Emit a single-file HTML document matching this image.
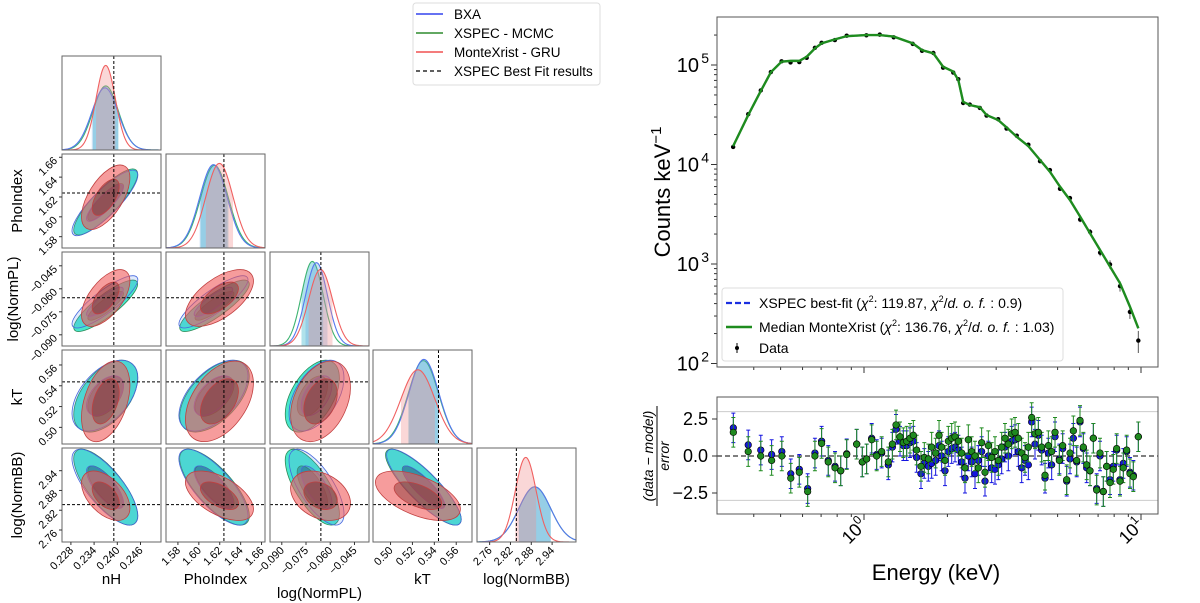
<!DOCTYPE html>
<html><head><meta charset="utf-8"><title>Corner plot and spectrum fit</title>
<style>
html,body{margin:0;padding:0;background:#fff;}
svg{display:block;font-family:"Liberation Sans","DejaVu Sans",sans-serif;}
</style></head>
<body>
<svg id="fig" width="1200" height="603" viewBox="0 0 1200 603" xmlns="http://www.w3.org/2000/svg">
  <g id="corner"></g>
  <g id="spec"></g>
  <g id="resid"></g>
  <g id="cornerLegend">
    <rect x="413" y="3" width="187" height="82" rx="3" fill="#fff" stroke="#ddd"/>
    <line x1="416" y1="14" x2="443" y2="14" stroke="#3344ee" stroke-width="1.5"/>
    <text x="454" y="19" font-size="13.5">BXA</text>
    <line x1="416" y1="33" x2="443" y2="33" stroke="#2e8b2e" stroke-width="1.5"/>
    <text x="454" y="38" font-size="13.5">XSPEC - MCMC</text>
    <line x1="416" y1="52" x2="443" y2="52" stroke="#f05050" stroke-width="1.5"/>
    <text x="454" y="57" font-size="13.5">MonteXrist - GRU</text>
    <line x1="416" y1="71" x2="443" y2="71" stroke="#000" stroke-width="1.3" stroke-dasharray="4,3"/>
    <text x="454" y="76" font-size="13.5">XSPEC Best Fit results</text>
  </g>
</svg>
<script>
// ---------- Corner plot data ----------
const params = ['nH','PhoIndex','log(NormPL)','kT','log(NormBB)'];
const rangeLo = [0.2257,1.5686,-0.0973,0.484,2.7236];
const rangeHi = [0.2513,1.6633,-0.0360,0.5744,3.0088];
const bestFit = [0.2391,1.624,-0.0658,0.5438,2.837];
const meanBXA = [0.2368,1.614,-0.0685,0.5305,2.890];
const sigBXA  = [0.0034,0.0132,0.0068,0.0136,0.046];
const meanMCMC = [0.2370,1.615,-0.0711,0.530,2.890];
const sigMCMC  = [0.0033,0.0133,0.0067,0.0138,0.046];
const meanGRU = [0.2370,1.6197,-0.066,0.525,2.864];
const sigGRU  = [0.0025,0.013,0.0074,0.0155,0.030];
const corrBXA  = [[1],[0.85,1],[0.85,0.85,1],[0.5,0.55,0.5,1],[-0.75,-0.75,-0.7,-0.85,1]];
const corrMCMC = [[1],[0.85,1],[0.85,0.85,1],[0.5,0.55,0.5,1],[-0.75,-0.75,-0.7,-0.85,1]];
const corrGRU  = [[1],[0.6,1],[0.6,0.6,1],[0.4,0.45,0.35,1],[-0.5,-0.55,-0.3,-0.55,1]];
const tickNH = [0.228,0.234,0.240,0.246];
const tickPho = [1.58,1.60,1.62,1.64,1.66];
const tickNormPL = [-0.090,-0.075,-0.060,-0.045];
const tickKT = [0.50,0.52,0.54,0.56];
const tickNormBB = [2.76,2.82,2.88,2.94];
const tickLabelNH = ['0.228','0.234','0.240','0.246'];
const tickLabelPho = ['1.58','1.60','1.62','1.64','1.66'];
const tickLabelNormPL = ['\u22120.090','\u22120.075','\u22120.060','\u22120.045'];
const tickLabelKT = ['0.50','0.52','0.54','0.56'];
const tickLabelNormBB = ['2.76','2.82','2.88','2.94'];

// ---------- Spectrum data ----------
const specEnergy = [0.337,0.382,0.424,0.461,0.504,0.543,0.584,0.621,0.665,0.703,0.785,0.866,1.02,1.14,1.28,1.50,1.62,1.78,1.93,2.10,2.19,2.28,2.41,2.62,2.77,3.05,3.27,3.56,3.92,4.32,4.69,5.10,5.54,6.03,6.55,7.12,7.73,8.40,9.12,9.78];
const modelCounts = [15300,31400,54800,84500,108000,110000,110000,121000,147000,165000,181000,195000,200000,200000,193000,165000,141000,131000,96000,86000,70800,42700,39600,37600,31400,28000,23600,19000,15300,11100,8470,5990,4400,2990,2030,1380,940,640,373,226];
const dataCounts = [15000,32000,55500,85000,109000,106000,107000,118000,149000,167000,178000,197000,199000,202000,190000,163000,139000,132000,94000,84000,72000,41500,40000,37000,31000,28500,23000,19500,15800,10800,8800,5700,4600,2800,2100,1300,990,600,330,170];
const dataRelErr = [0.02,0.01,0.01,0.01,0.01,0.01,0.01,0.01,0.01,0.01,0.01,0.01,0.01,0.01,0.01,0.01,0.01,0.01,0.01,0.01,0.01,0.01,0.01,0.01,0.01,0.02,0.02,0.02,0.02,0.03,0.03,0.04,0.05,0.06,0.07,0.08,0.1,0.12,0.15,0.25];
const specYTicks = [2,3,4,5];

// ---------- Residual data ----------
const resEnergy = [0.3375,0.382,0.424,0.464,0.505,0.544,0.584,0.626,0.665,0.703,0.743,0.786,0.824,0.866,0.941,0.986,1.022,1.066,1.111,1.158,1.224,1.266,1.305,1.349,1.387,1.426,1.466,1.507,1.549,1.606,1.651,1.707,1.755,1.814,1.866,1.907,1.961,2.016,2.073,2.131,2.191,2.253,2.315,2.380,2.447,2.516,2.587,2.659,2.734,2.811,2.890,2.971,3.055,3.141,3.228,3.319,3.413,3.509,3.607,3.709,3.813,3.920,4.030,4.143,4.260,4.380,4.503,4.629,4.759,4.893,5.073,5.215,5.392,5.543,5.699,5.859,6.023,6.192,6.367,6.545,6.729,6.918,7.112,7.311,7.517,7.728,7.945,8.168,8.397,8.633,8.876,9.125,9.382,9.781];
const resXspec = [1.9,0.75,0.4,0.1,0.3,-1.2,-0.9,-2.2,0.2,1.0,-0.3,-0.7,-1.0,0.15,0.8,-0.4,-0.2,1.2,0.1,0.2,-0.6,0.6,1.8,1.0,0.7,0.7,0.9,1.0,-0.1,-1.2,-0.5,-0.7,-0.5,-0.3,0.7,0.0,-1.0,0.3,0.5,0.6,0.4,-0.4,-1.5,0.0,-0.4,-1.2,-0.3,0.3,-1.7,0.0,-0.8,-0.9,-0.6,-0.2,0.6,0.0,1.0,1.1,0.3,-0.8,-0.3,-0.6,2.3,0.8,1.4,0.4,-1.5,0.2,-0.6,1.3,-0.2,0.5,-1.7,-0.2,1.2,-0.4,2.3,0.5,-0.8,-1.0,1.2,-2.2,0.0,-2.4,-0.7,-1.6,-0.7,0.4,-1.6,-0.5,0.3,-1.1,-1.3,1.3];
const resMonte = [1.6,0.3,0.0,-0.3,0.0,-1.5,-1.1,-2.4,0.0,0.85,-0.4,-0.8,-1.0,0.1,0.8,-0.4,-0.2,1.1,0.0,0.3,-0.4,0.8,2.1,1.3,0.9,1.0,1.2,1.4,0.4,-0.7,-0.1,-0.2,0.6,0.2,1.4,0.6,-0.3,1.0,1.2,1.3,1.0,0.2,-0.8,1.1,0.3,0.0,-0.8,0.9,-1.1,0.7,-0.1,0.3,-0.3,0.6,1.2,0.8,1.5,1.6,1.2,0.2,-0.1,0.6,2.6,1.5,1.6,0.6,-1.3,0.7,0.3,1.6,-0.3,0.7,-1.6,0.2,1.7,-0.3,2.4,0.6,-0.6,-1.0,1.2,-2.3,0.2,-2.4,-0.7,-1.8,-0.9,0.5,-1.7,-0.8,0.4,-1.2,-1.4,1.3];
const resYTicks = [2.5,0,-2.5];
const resYTickLabels = ['2.5','0.0','\u22122.5'];

const NS='http://www.w3.org/2000/svg';
function mk(tag, attrs, parent){ const e=document.createElementNS(NS,tag); for(const k in attrs) e.setAttribute(k,attrs[k]); parent.appendChild(e); return e; }

// ================= CORNER =================
const corner=document.getElementById('corner');
const colX=[62,166,270,373,477], rowY=[56,154,252,350,448], PW=99, PH=94;
const tickArrs=[tickNH,tickPho,tickNormPL,tickKT,tickNormBB];
const tickLabs=[tickLabelNH,tickLabelPho,tickLabelNormPL,tickLabelKT,tickLabelNormBB];
function px(j,v){ return colX[j]+(v-rangeLo[j])/(rangeHi[j]-rangeLo[j])*PW; }
function py(i,v){ return rowY[i]+PH-(v-rangeLo[i])/(rangeHi[i]-rangeLo[i])*PH; }
const defs=mk('defs',{},corner);
const methods=[
 {m:meanMCMC,s:sigMCMC,c:corrMCMC,line:'#3cb371',fillOut:'rgba(55,228,200,0.92)',fillIn:'rgba(20,110,110,0.5)',edge:'#2e8b57',band:'rgba(80,190,210,0.45)',name:'mcmc'},
 {m:meanBXA,s:sigBXA,c:corrBXA,line:'#5577ee',fillOut:'rgba(100,150,240,0.2)',fillIn:'rgba(40,60,140,0.2)',edge:'#4466dd',band:'rgba(90,160,220,0.3)',name:'bxa'},
 {m:meanGRU,s:sigGRU,c:corrGRU,line:'#f06060',fillOut:'rgba(240,90,90,0.6)',fillIn:'rgba(120,40,40,0.42)',edge:'#c04040',band:'rgba(240,140,140,0.35)',name:'gru'}
];
function gauss(x,m,s){ return Math.exp(-0.5*((x-m)/s)**2)/s; }
for(let i=0;i<5;i++){
  for(let j=0;j<=i;j++){
    const x0=colX[j], y0=rowY[i];
    const cid='clip'+i+'_'+j;
    const cp=mk('clipPath',{id:cid},defs);
    mk('rect',{x:x0,y:y0,width:PW,height:PH},cp);
    const g=mk('g',{'clip-path':'url(#'+cid+')'},corner);
    
    
    if(i===j){
      let maxP=0; methods.forEach(M=>{ maxP=Math.max(maxP,1/M.s[i]); });
      methods.forEach(M=>{
        const yv=v=>y0+PH-gauss(v,M.m[i],M.s[i])/maxP*0.9*PH;
        let d='';
        const a=M.m[i]-M.s[i], b=M.m[i]+M.s[i];
        for(let k=0;k<=40;k++){ const v=a+(b-a)*k/40; d+=(k?'L':'M')+px(j,v).toFixed(2)+','+yv(v).toFixed(2); }
        d+='L'+px(j,b).toFixed(2)+','+(y0+PH)+'L'+px(j,a).toFixed(2)+','+(y0+PH)+'Z';
        const band=mk('path',{d:d,fill:M.band,stroke:'none'},g);
        
        
        let dl='';
        for(let k=0;k<=120;k++){ const v=rangeLo[i]+(rangeHi[i]-rangeLo[i])*k/120; dl+=(k?'L':'M')+px(j,v).toFixed(2)+','+yv(v).toFixed(2); }
        const ln=mk('path',{d:dl,fill:'none',stroke:M.line,'stroke-width':1.1},g);
        
        
      });
      const bl=mk('line',{x1:px(j,bestFit[j]),x2:px(j,bestFit[j]),y1:y0,y2:y0+PH,stroke:'#000','stroke-width':1,'stroke-dasharray':'3,2'},g);
      
      
    } else {
      methods.forEach(M=>{
        const sxp=M.s[j]/(rangeHi[j]-rangeLo[j])*PW, syp=M.s[i]/(rangeHi[i]-rangeLo[i])*PH;
        const rho=M.c[i][j];
        const a=sxp*sxp, c=syp*syp, b=-rho*sxp*syp;
        const tr=(a+c)/2, df=Math.sqrt(((a-c)/2)**2+b*b);
        const l1=tr+df, l2=Math.max(tr-df,0.01);
        const ang=0.5*Math.atan2(2*b,a-c)*180/Math.PI;
        const cx=px(j,M.m[j]), cy=py(i,M.m[i]);
        const outer=mk('ellipse',{cx:cx,cy:cy,rx:2.5*Math.sqrt(l1),ry:2.5*Math.sqrt(l2),transform:'rotate('+ang+' '+cx+' '+cy+')',fill:M.fillOut,stroke:M.edge,'stroke-width':0.8},g);
        
        
        const inner=mk('ellipse',{cx:cx,cy:cy,rx:1.4*Math.sqrt(l1),ry:1.4*Math.sqrt(l2),transform:'rotate('+ang+' '+cx+' '+cy+')',fill:M.fillIn,stroke:M.edge,'stroke-width':0.8},g);
        
        
      });
      const vl=mk('line',{x1:px(j,bestFit[j]),x2:px(j,bestFit[j]),y1:y0,y2:y0+PH,stroke:'#000','stroke-width':1,'stroke-dasharray':'3,2'},g);
      
      
      const hl=mk('line',{x1:x0,x2:x0+PW,y1:py(i,bestFit[i]),y2:py(i,bestFit[i]),stroke:'#000','stroke-width':1,'stroke-dasharray':'3,2'},g);
      
      
    }
    const fr=mk('rect',{x:x0,y:y0,width:PW,height:PH,fill:'none',stroke:'#666','stroke-width':1},corner);
    
    
    if(i===4){
      tickArrs[j].forEach((t,k)=>{
        const tx=px(j,t);
        mk('line',{x1:tx,x2:tx,y1:y0+PH,y2:y0+PH+3,stroke:'#333'},corner);
        const tl=mk('text',{x:tx+3,y:y0+PH+9,'font-size':11,'text-anchor':'end',transform:'rotate(-45 '+(tx+3)+' '+(y0+PH+9)+')'},corner);
        tl.textContent=tickLabs[j][k];
        
        
      });
    }
    if(j===0 && i>0){
      tickArrs[i].forEach((t,k)=>{
        const ty=py(i,t);
        mk('line',{x1:x0-3,x2:x0,y1:ty,y2:ty,stroke:'#333'},corner);
        const tl=mk('text',{x:x0-4,y:ty+4,'font-size':11,'text-anchor':'end',transform:'rotate(-45 '+(x0-4)+' '+(ty+4)+')'},corner);
        tl.textContent=tickLabs[i][k];
        
        
      });
    }
  }
}
const xLabY=[584,584,598,584,584];
params.forEach((p,j)=>{
  const t=mk('text',{x:colX[j]+PW/2,y:xLabY[j],'font-size':15,'text-anchor':'middle'},corner);
  t.textContent=p;
  
  
});
const yLabX=[0,22,18,22,22];
for(let i=1;i<5;i++){
  const cy=rowY[i]+PH/2, cx=yLabX[i];
  const t=mk('text',{x:cx,y:cy,'font-size':15,'text-anchor':'middle',transform:'rotate(-90 '+cx+' '+cy+')'},corner);
  t.textContent=params[i];
  
  
}

// ================= SPECTRUM =================
const spec=document.getElementById('spec');
const SL=717, SR=1158, ST=17, SB=367;
const sx=E=>864+277*Math.log10(E);
const sy=C=>363.5-99.5*(Math.log10(C)-2);
const xMinor=[0.4,0.5,0.6,0.7,0.8,0.9,2,3,4,5,6,7,8,9];
const xMajor=[1,10];
function xticks(par,bottom){
  xMinor.forEach(v=>{ mk('line',{x1:sx(v),x2:sx(v),y1:bottom,y2:bottom+3,stroke:'#333'},par); });
  xMajor.forEach(v=>{ mk('line',{x1:sx(v),x2:sx(v),y1:bottom,y2:bottom+6,stroke:'#333'},par); });
}
xticks(spec,SB);
specYTicks.forEach(p=>{
  const y=sy(10**p);
  mk('line',{x1:SL-6,x2:SL,y1:y,y2:y,stroke:'#333'},spec);
  for(let m=2;m<10 && p<5;m++){ const ym=sy(m*10**p); mk('line',{x1:SL-3,x2:SL,y1:ym,y2:ym,stroke:'#333'},spec); }
  const t=mk('text',{x:SL-18,y:y+7,'font-size':20,'text-anchor':'end'},spec);
  t.textContent='10';
  
  
  const s=mk('text',{x:SL-8,y:y-2,'font-size':14,'text-anchor':'end'},spec);
  s.textContent=String(p);
});
mk('line',{x1:SL-3,x2:SL,y1:sy(2e5),y2:sy(2e5),stroke:'#333'},spec);
specEnergy.forEach((E,k)=>{
  const c=dataCounts[k], e=dataRelErr[k]*c;
  const eb=mk('line',{x1:sx(E),x2:sx(E),y1:sy(c+e),y2:sy(Math.max(c-e,1)),stroke:'#555','stroke-width':1},spec);
  
  
  const pt=mk('circle',{cx:sx(E),cy:sy(c),r:2.2,fill:'#000'},spec);
  
  
});
let dm='';
specEnergy.forEach((E,k)=>{ dm+=(k?'L':'M')+sx(E).toFixed(2)+','+sy(modelCounts[k]).toFixed(2); });
const ml1=mk('path',{d:dm,fill:'none',stroke:'#1a2fe0','stroke-width':2,'stroke-dasharray':'6,3'},spec);


const ml2=mk('path',{d:dm,fill:'none',stroke:'#1e8c1e','stroke-width':2.4},spec);


const sf=mk('rect',{x:SL,y:ST,width:SR-SL,height:SB-ST,fill:'none',stroke:'#555','stroke-width':1},spec);


const lg=mk('g',{},spec);


mk('rect',{x:722,y:288,width:341,height:73,rx:3,fill:'#fff',stroke:'#ddd'},lg);
mk('line',{x1:726,x2:752,y1:303,y2:303,stroke:'#1a2fe0','stroke-width':2.2,'stroke-dasharray':'6,3'},lg);
mk('line',{x1:726,x2:752,y1:327,y2:327,stroke:'#1e8c1e','stroke-width':2.4},lg);
mk('line',{x1:737,x2:737,y1:343,y2:353,stroke:'#000','stroke-width':1},lg);
mk('circle',{cx:737,cy:348,r:2,fill:'#000'},lg);
const lt1=mk('text',{x:759,y:308,'font-size':14},lg);
lt1.innerHTML='XSPEC best-fit (<tspan font-style="italic">χ</tspan><tspan font-size="9" dy="-6">2</tspan><tspan dy="6">: 119.87, </tspan><tspan font-style="italic">χ</tspan><tspan font-size="9" dy="-6">2</tspan><tspan dy="6">/</tspan><tspan font-style="italic">d. o. f.</tspan> : 0.9)';


const lt2=mk('text',{x:759,y:332,'font-size':14},lg);
lt2.innerHTML='Median MonteXrist (<tspan font-style="italic">χ</tspan><tspan font-size="9" dy="-6">2</tspan><tspan dy="6">: 136.76, </tspan><tspan font-style="italic">χ</tspan><tspan font-size="9" dy="-6">2</tspan><tspan dy="6">/</tspan><tspan font-style="italic">d. o. f.</tspan> : 1.03)';


const lt3=mk('text',{x:759,y:353,'font-size':14},lg);
lt3.textContent='Data';


const yt=mk('text',{x:670,y:192,'font-size':22,'text-anchor':'middle',transform:'rotate(-90 670 192)'},spec);
yt.innerHTML='Counts keV<tspan font-size="15" dy="-9">−1</tspan>';



// ================= RESIDUALS =================
const res=document.getElementById('resid');
const RT=397, RB=514;
const ry=v=>456-14.8*v;
[3,-3].forEach(v=>{ mk('line',{x1:SL,x2:SR,y1:ry(v),y2:ry(v),stroke:'#ccc','stroke-width':1},res); });
const zl=mk('line',{x1:SL,x2:SR,y1:ry(0),y2:ry(0),stroke:'#333','stroke-width':1.3,'stroke-dasharray':'5,3'},res);


function resSeries(arr,col,name){
  arr.forEach((v,k)=>{
    const x=sx(resEnergy[k]);
    const eb=mk('path',{d:'M'+x+','+ry(v+1)+'V'+ry(v-1)+'M'+(x-2)+','+ry(v+1)+'h4M'+(x-2)+','+ry(v-1)+'h4',stroke:col,'stroke-width':1,fill:'none'},res);
    
    
  });
  arr.forEach((v,k)=>{
    const pt=mk('circle',{cx:sx(resEnergy[k]),cy:ry(v),r:3.3,fill:col,stroke:'#000','stroke-width':0.6},res);
    
    
  });
}
resSeries(resXspec,'#1515e0','xspec');
resSeries(resMonte,'#1f8a1f','montexrist');
const rf=mk('rect',{x:SL,y:RT,width:SR-SL,height:RB-RT,fill:'none',stroke:'#555','stroke-width':1},res);


xticks(res,RB);
resYTicks.forEach((v,k)=>{
  mk('line',{x1:SL-5,x2:SL,y1:ry(v),y2:ry(v),stroke:'#333'},res);
  const t=mk('text',{x:SL-9,y:ry(v)+6,'font-size':18,'text-anchor':'end'},res);
  t.textContent=resYTickLabels[k];
  
  
});
[[1,'0'],[10,'1']].forEach(([v,p])=>{
  const x=sx(v)+4, y=RB+12;
  const t=mk('text',{x:x,y:y,'font-size':18,'text-anchor':'end',transform:'rotate(-45 '+x+' '+y+')'},res);
  t.innerHTML='10<tspan font-size="12" dy="-8">'+p+'</tspan>';
  
  
});
const xt=mk('text',{x:936,y:580,'font-size':22,'text-anchor':'middle'},res);
xt.textContent='Energy (keV)';


const yg=mk('g',{transform:'translate(657 456) rotate(-90)'},res);


const n1=mk('text',{x:0,y:-4,'font-size':14,'text-anchor':'middle','font-style':'italic'},yg);
n1.textContent='(data − model)';
mk('line',{x1:-50,x2:50,y1:0,y2:0,stroke:'#000','stroke-width':1},yg);
const n2=mk('text',{x:0,y:12,'font-size':14,'text-anchor':'middle','font-style':'italic'},yg);
n2.textContent='error';
</script>
</body></html>
